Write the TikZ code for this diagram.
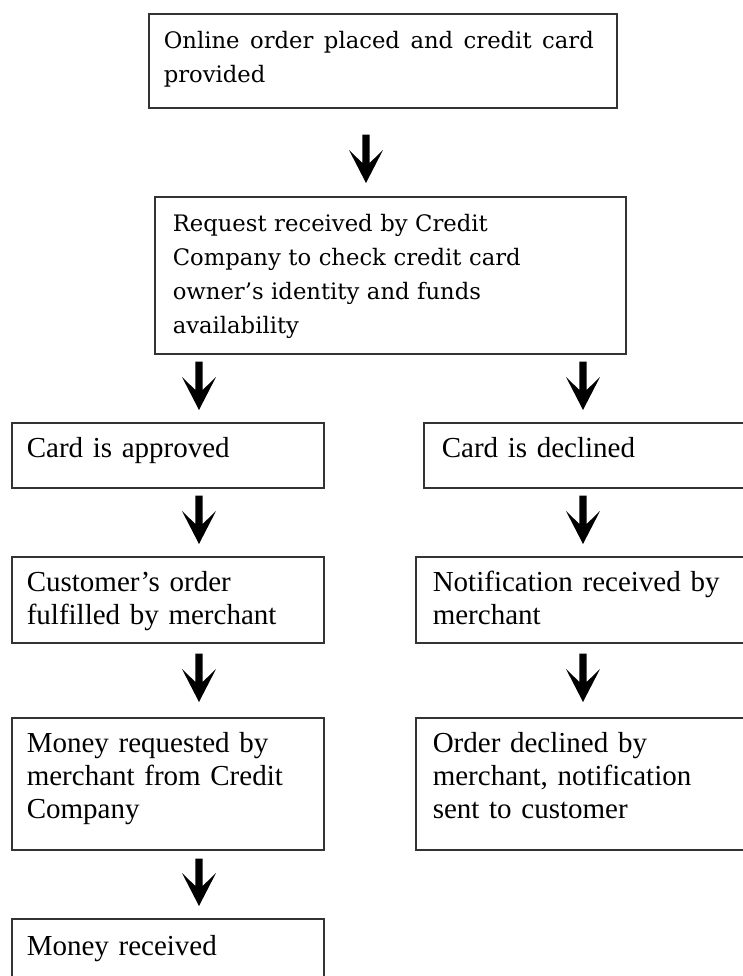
\documentclass[tikz,border=0pt]{standalone}
\usepackage{fontspec}
\newfontfamily\upfont{DejaVu Serif}
\newfontfamily\lowfont{Liberation Serif}
\usetikzlibrary{calc}
\newcommand\tstr[1]{\rule{0pt}{#1pt}}
\newcommand\bstr[1]{\rule[-#1pt]{0pt}{#1pt}}
\begin{document}
\begin{tikzpicture}[x=1pt,y=-1pt,
  box/.style={draw=black!80, line width=1.6pt, rectangle, anchor=north west, inner ysep=0pt, align=left},
  upbox/.style={box, font=\upfont\fontsize{22.7}{34}\selectfont},
  lowbox/.style={box, font=\lowfont\fontsize{29}{33}\selectfont},
  leftbox/.style={lowbox, inner xsep=15pt, text width=282pt},
  rightbox/.style={lowbox, inner xsep=17pt, text width=311pt},
  blk/.style 2 args={to path={let \p1=(\tikztostart), \p2=(\tikztotarget) in
    (\x1-3.6pt,\y1-#1pt) -- (\x1+3.6pt,\y1-#1pt) -- (\x1+3.6pt,\y2+#2pt+20pt)
    -- (\x1+17pt,\y2+#2pt+33pt) -- (\x1,\y2+#2pt) -- (\x1-17pt,\y2+#2pt+33pt)
    -- (\x1-3.6pt,\y2+#2pt+20pt) -- cycle}}
]
\useasboundingbox (0,0) rectangle (743,976);

\node[upbox, inner xsep=15pt, text width=438pt] (b1) at (148,13)
  {\tstr{35}\makebox[430pt]{Online\hfill order\hfill placed\hfill and\hfill credit\hfill card}\\ provided\bstr{25}};
\node[upbox, inner xsep=18pt, text width=435pt] (b2) at (154,196)
  {\tstr{35}Request received by Credit\\ Company to check credit card\\ owner’s identity and funds\\ availability\bstr{20}};

\node[leftbox] (ap) at (11,422) {\tstr{35}Card is approved\bstr{30}};
\node[lowbox, inner xsep=18pt, text width=301pt] (de) at (423,422) {\tstr{35}Card is declined\bstr{30}};

\node[leftbox] (cu) at (11,556) {\tstr{35}Customer’s order\\ fulfilled by merchant\bstr{18}};
\node[rightbox] (no) at (415,556) {\tstr{35}Notification received by\\ merchant\bstr{18}};

\node[leftbox] (mr) at (11,717) {\tstr{35}Money requested by\\ merchant from Credit\\ Company\bstr{31}};
\node[rightbox] (od) at (415,717) {\tstr{35}Order declined by\\ merchant, notification\\ sent to customer\bstr{31}};

\node[leftbox] (rc) at (11,918) {\tstr{37}Money received\bstr{25}};

\coordinate (xM) at (366,0);
\coordinate (xL) at (199,0);
\coordinate (xR) at (583,0);

\fill (b1.south -| xM) to[blk={26}{13}] (b2.north -| xM);
\fill (b2.south -| xL) to[blk={7}{12}] (ap.north -| xL);
\fill (b2.south -| xR) to[blk={7}{12}] (de.north -| xR);
\fill (ap.south -| xL) to[blk={7}{12}] (cu.north -| xL);
\fill (de.south -| xR) to[blk={7}{12}] (no.north -| xR);
\fill (cu.south -| xL) to[blk={10}{15}] (mr.north -| xL);
\fill (no.south -| xR) to[blk={10}{15}] (od.north -| xR);
\fill (mr.south -| xL) to[blk={8}{12}] (rc.north -| xL);
\end{tikzpicture}
\end{document}
